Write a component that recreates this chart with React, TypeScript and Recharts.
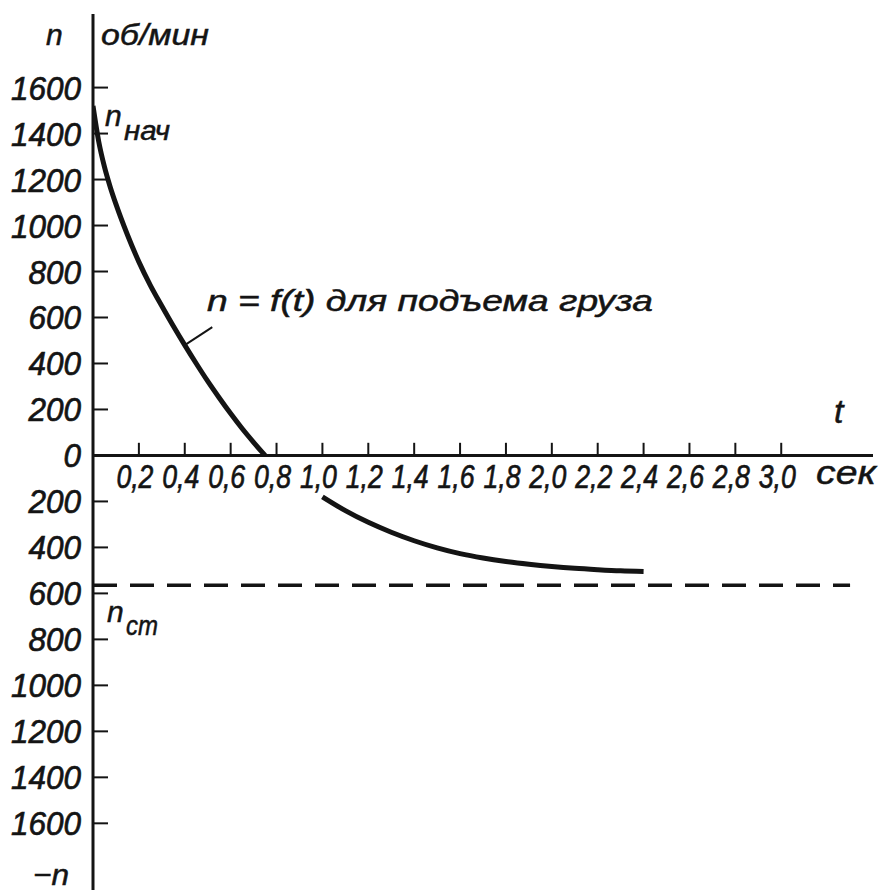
import React from 'react';
import {
  LineChart,
  Line,
  XAxis,
  YAxis,
  ReferenceLine,
  Customized,
} from 'recharts';

// n = f(t) for hoisting the load (t in sec, n in rpm)
const liftT = [0, 0.025, 0.05, 0.075, 0.1, 0.15, 0.2, 0.25, 0.3, 0.35, 0.4, 0.45, 0.5, 0.55, 0.6, 0.65, 0.7, 0.75];
const liftN = [1520, 1365, 1255, 1168, 1093, 960, 842, 740, 650, 563, 480, 400, 323, 251, 182, 117, 57, 0];

// second branch, below zero
const lowerT = [1.0, 1.1, 1.2, 1.3, 1.4, 1.5, 1.6, 1.7, 1.8, 1.9, 2.0, 2.1, 2.2, 2.3, 2.4];
const lowerN = [-180, -240, -291, -334, -371, -402, -427, -446, -461, -473, -483, -491, -497, -502, -505];

// steady speed n_ст (dashed)
const steadyT = [0, 3.3];
const steadyN = [-565, -565];

const xTicks = [0.2, 0.4, 0.6, 0.8, 1.0, 1.2, 1.4, 1.6, 1.8, 2.0, 2.2, 2.4, 2.6, 2.8, 3.0];
const xTickLabels = ['0,2', '0,4', '0,6', '0,8', '1,0', '1,2', '1,4', '1,6', '1,8', '2,0', '2,2', '2,4', '2,6', '2,8', '3,0'];
const yTicks = [-1600, -1400, -1200, -1000, -800, -600, -400, -200, 0, 200, 400, 600, 800, 1000, 1200, 1400, 1600];

const INK = '#141414';
const FONT = '"Liberation Sans", Arial, sans-serif';

const toRows = (ts: number[], ns: number[]) => ts.map((t, i) => ({ t, n: ns[i] }));

const YTick = (props: any) => {
  const { x, y, payload } = props;
  const label = String(Math.abs(payload.value));
  return (
    <g>
      {payload.value !== 0 && (
        <line x1={x} x2={x + 15} y1={y} y2={y} stroke={INK} strokeWidth={2} />
      )}
      <text
        x={x - 12}
        y={y + 12}
        textAnchor="end"
        fontFamily={FONT}
        fontStyle="italic"
        fontSize={34}
        fill={INK}
        stroke={INK}
        strokeWidth={0.7}
        textLength={label.length * 17.5}
        lengthAdjust="spacingAndGlyphs"
      >
        {label}
      </text>
    </g>
  );
};

const xLabel = (text: string) => (p: any) => {
  const vb = p.viewBox || {};
  return (
    <text
      x={vb.x - 4}
      y={vb.y + vb.height + 33}
      textAnchor="middle"
      fontFamily={FONT}
      fontStyle="italic"
      fontSize={34}
      fill={INK}
      stroke={INK}
      strokeWidth={0.7}
      textLength={37}
      lengthAdjust="spacingAndGlyphs"
    >
      {text}
    </text>
  );
};

const txt = (x: number, y: number, s: string, size: number, len?: number) => (
  <text
    x={x}
    y={y}
    fontFamily={FONT}
    fontStyle="italic"
    fontSize={size}
    fill={INK}
    stroke={INK}
    strokeWidth={0.5}
    textLength={len}
    lengthAdjust={len ? 'spacingAndGlyphs' : undefined}
  >
    {s}
  </text>
);

const Annotations = () => (
  <g>
    {txt(46, 45, 'n', 30)}
    {txt(101, 45, 'об/мин', 30, 108)}
    {txt(105, 126, 'n', 30)}
    {txt(124, 140, 'нач', 27, 46)}
    {txt(107, 622, 'n', 30)}
    {txt(126, 635, 'ст', 27, 32)}
    {txt(834, 423, 't', 34)}
    {txt(816, 484, 'сек', 34, 60)}
    {txt(33, 885, '−n', 30, 36)}
    {txt(207, 311, 'n = f(t) для подъема груза', 29, 446)}
  </g>
);

const App: React.FC = () => {
  return (
    <div style={{ position: 'absolute', left: 0, top: 0, background: '#fff' }}>
      <LineChart width={879} height={890} margin={{ top: 14, right: 6, bottom: 0, left: 8 }}>
        <XAxis type="number" dataKey="t" domain={[0, 3.4]} hide allowDataOverflow />
        <YAxis
          type="number"
          domain={[-1890, 1920]}
          ticks={yTicks}
          interval={0}
          width={85}
          allowDataOverflow
          axisLine={{ stroke: INK, strokeWidth: 3 }}
          tickLine={false}
          tickSize={0}
          tickMargin={0}
          tick={YTick}
        />
        <ReferenceLine y={0} stroke={INK} strokeWidth={3} />
        {xTicks.map((t, i) => (
          <ReferenceLine
            key={t}
            segment={[{ x: t, y: 0 }, { x: t, y: 55 }]}
            stroke={INK}
            strokeWidth={2}
            label={xLabel(xTickLabels[i])}
          />
        ))}
        {/* leader from the formula to the curve */}
        <ReferenceLine
          segment={[{ x: liftT[10], y: liftN[10] }, { x: 0.52, y: 558 }]}
          stroke={INK}
          strokeWidth={2}
        />
        <Line
          data={toRows(steadyT, steadyN)}
          dataKey="n"
          stroke={INK}
          strokeWidth={3.5}
          strokeDasharray="24 13"
          dot={false}
          isAnimationActive={false}
        />
        <Line
          data={toRows(liftT, liftN)}
          dataKey="n"
          type="monotone"
          stroke={INK}
          strokeWidth={5}
          dot={false}
          isAnimationActive={false}
        />
        <Line
          data={toRows(lowerT, lowerN)}
          dataKey="n"
          type="monotone"
          stroke={INK}
          strokeWidth={5}
          dot={false}
          isAnimationActive={false}
        />
        <Customized component={Annotations} />
      </LineChart>
    </div>
  );
};

export default App;
